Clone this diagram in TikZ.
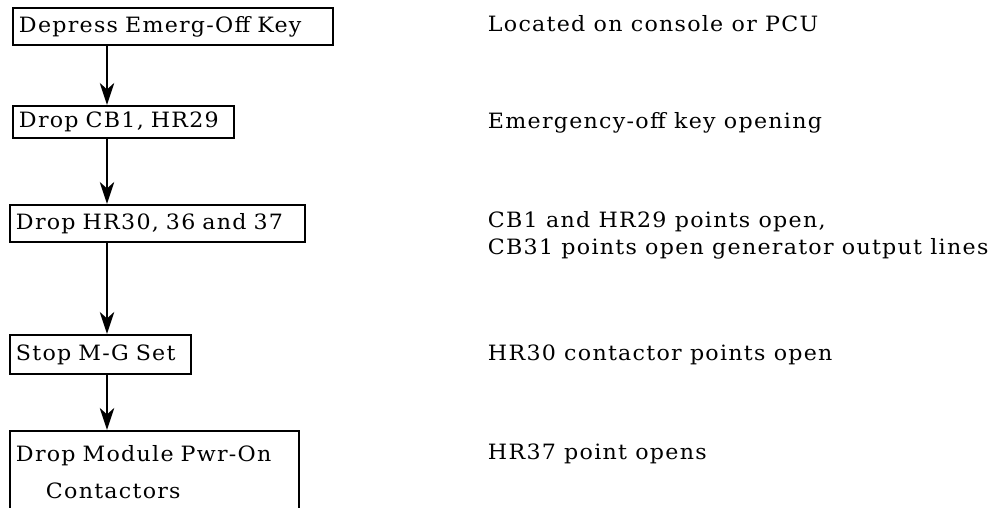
\documentclass[tikz,border=0pt]{standalone}
\usepackage{fontspec}
\setmainfont{DejaVu Serif}[LetterSpace=6,FakeStretch=1.05]
\usetikzlibrary{arrows.meta}
\tikzset{
  every picture/.style={line width=1.4pt, font=\fontsize{15}{18.5}\selectfont},
  stepbox/.style={draw, anchor=north west, align=left, inner xsep=0.15cm, inner ysep=0pt},
  arrow/.style={-{Stealth[length=5.5mm, width=3.6mm, inset=1.6mm]}, line width=1.4pt},
  note/.style={anchor=base west, align=left, inner sep=0pt},
}

\begin{document}
\begin{tikzpicture}[x=0.025cm, y=-0.025cm]
  \useasboundingbox (0,0) rectangle (1003,507);
  % steps
  \node[stepbox, text width=7.7cm, minimum height=0.925cm] (emoff) at (12,7) {Depress Emerg-Off Key};
  \node[stepbox, text width=5.225cm, minimum height=0.8cm] (dropcb) at (12,105) {Drop CB1, HR29};
  \node[stepbox, text width=7.075cm, minimum height=0.925cm] (drophr) at (9,204) {Drop HR30, 36 and 37};
  \node[stepbox, text width=4.225cm, minimum height=0.975cm] (stopmg) at (9,334) {Stop M-G Set};
  \node[stepbox, text width=6.925cm, inner ysep=0.35cm, text depth=2.2cm] (droppwr) at (9,430)
    {Drop Module Pwr-On\\[0.275cm]\hspace*{0.75cm}Contactors};
  % arrows
  \coordinate (ax) at (107,0);
  \foreach \a/\b in {emoff/dropcb, dropcb/drophr, drophr/stopmg, stopmg/droppwr}
    \draw[arrow] (\a.south -| ax) -- (\b.north -| ax);
  % notes
  \node[note] (n1) at (487,31) {Located on console or PCU};
  \node[note] (n2) at (487,128) {Emergency-off key opening};
  \node[note] (n3) at (487,254) {CB1 and HR29 points open,\\CB31 points open generator output lines};
  \node[note] (n4) at (487,360) {HR30 contactor points open};
  \node[note] (n5) at (487,459) {HR37 point opens};
\end{tikzpicture}
\end{document}
